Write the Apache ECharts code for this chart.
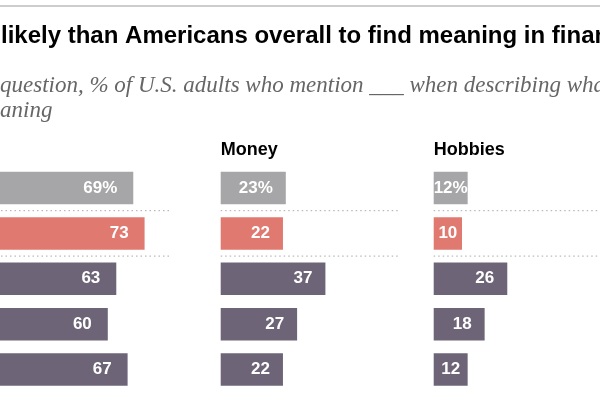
<!DOCTYPE html>
<html><head><meta charset="utf-8">
<script src="https://cdn.jsdelivr.net/npm/echarts@6/dist/echarts.min.js"></script>
<style>html,body{margin:0;padding:0;background:#fff}#c{width:600px;height:407px}</style>
</head><body><div id="c"></div>
<script>
// ---- data ----
const titleText = 'likely than Americans overall to find meaning in finances';
const subtitleLine1 = 'question, % of U.S. adults who mention ___ when describing what';
const subtitleLine2 = 'aning';
const rowNames = ['U.S. adults', 'Asian adults', 'Group 1', 'Group 2', 'Group 3'];
const panelNames = ['Family', 'Money', 'Hobbies'];
const family = [69, 73, 63, 60, 67];
const money = [23, 22, 37, 27, 22];
const hobbies = [12, 10, 26, 18, 12];
const separatorsAfterRow = [1, 2]; // dotted rules below row 1 and row 2

// ---- layout / style ----
const panelData = [family, money, hobbies];
const pxPerUnit = 2.83;
const panelLeft = [-62, 220.7, 433.7];
const panelWidth = [234, 177, 177];
const gridTop = 165.3, gridHeight = 227;
const rowColors = ['#a6a6a8', '#e07a70', '#6e6478', '#6e6478', '#6e6478'];

const chart = echarts.init(document.getElementById('c'), null, {renderer: 'canvas'});

const grids = [], xAxes = [], yAxes = [], series = [];
panelData.forEach((vals, p) => {
  const xMax = panelWidth[p] / pxPerUnit;
  grids.push({left: panelLeft[p], top: gridTop, width: panelWidth[p], height: gridHeight,
    containLabel: false, outerBoundsMode: 'none'});
  xAxes.push({type: 'value', gridIndex: p, min: 0, max: xMax, show: false});
  yAxes.push({
    type: 'category', gridIndex: p, data: rowNames, inverse: true,
    axisLine: {show: false}, axisTick: {show: false}, axisLabel: {show: false}, splitLine: {show: false}
  });
  // hidden value axis (row units) to place the dotted separators
  yAxes.push({type: 'value', gridIndex: p, min: 0, max: rowNames.length, inverse: true, show: false});
  series.push({
    type: 'bar', xAxisIndex: p, yAxisIndex: 2 * p, barWidth: 32.5,
    data: vals.map((v, i) => {
      const small = v * pxPerUnit < 45;
      return {
        value: v,
        itemStyle: {color: rowColors[i]},
        label: {
          show: true,
          position: small ? 'inside' : 'insideRight',
          distance: p === 0 ? 16 : 13,
          formatter: i === 0 ? v + '%' : String(v),
          color: '#fff', fontWeight: 'bold', fontSize: 17,
          fontFamily: 'Liberation Sans, Arial, sans-serif'
        }
      };
    })
  });
  separatorsAfterRow.forEach(b => {
    series.push({
      type: 'line', xAxisIndex: p, yAxisIndex: 2 * p + 1, symbol: 'none', silent: true,
      data: [[0, b], [xMax, b]],
      lineStyle: {color: '#a9a9a9', width: 1, type: [1.5, 3]}
    });
  });
});

const graphics = [
  {type: 'rect', left: 0, top: 5, shape: {width: 600, height: 2}, style: {fill: '#cdcdcd'}},
  {type: 'text', x: 1, y: 36, style: {text: titleText, fill: '#000', font: 'bold 24px "Liberation Sans", Arial, sans-serif', verticalAlign: 'middle'}},
  {type: 'text', x: 0, y: 86, style: {text: subtitleLine1, fill: '#666', font: 'italic 23px "Liberation Serif", Georgia, serif', verticalAlign: 'middle'}},
  {type: 'text', x: 0, y: 111, style: {text: subtitleLine2, fill: '#666', font: 'italic 23px "Liberation Serif", Georgia, serif', verticalAlign: 'middle'}}
];
panelNames.forEach((n, p) => {
  graphics.push({type: 'text', x: panelLeft[p], y: 150.5, style: {text: n, fill: '#000', font: 'bold 18px "Liberation Sans", Arial, sans-serif', verticalAlign: 'middle'}});
});

chart.setOption({
  animation: false,
  grid: grids, xAxis: xAxes, yAxis: yAxes, series: series,
  graphic: graphics
});
</script></body></html>
